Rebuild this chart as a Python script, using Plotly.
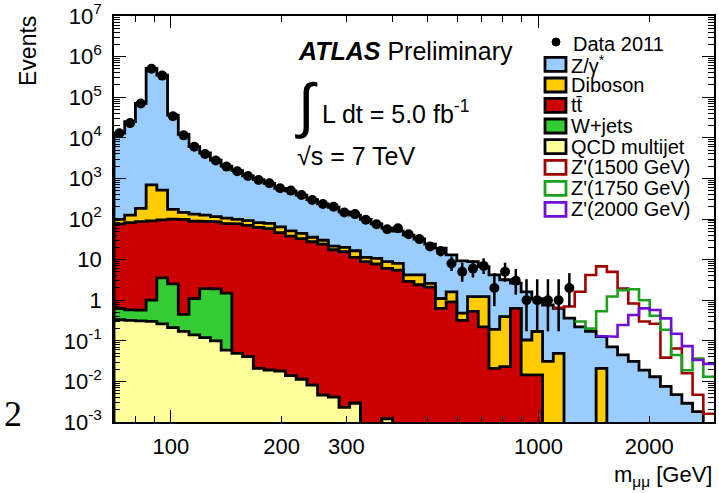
import numpy as np
import plotly.graph_objects as go

# ---------------- data (events per bin, 56 log-spaced bins from 70 to 3000 GeV) ----------------
bin_lo, bin_hi, n_bins = 70.0, 3000.0, 56

data_2011 = [13000, 23000, 70000, 500000, 340000, 34000, 11500, 6000, 4000, 2750,
             1950, 1500, 1150, 910, 760, 570, 500, 390, 295, 235,
             200, 145, 132, 96, 74, 56, 59, 42, 32, 21,
             16, 8, 5, 6, 7, 2, 5, 3, 1, 1,
             1, 1, 2, 0, 0, 0, 0, 0, 0, 0,
             0, 0, 0, 0, 0, 0]

qcd = [0.33, 0.32, 0.31, 0.30, 0.26, 0.21, 0.17, 0.14, 0.12, 0.10,
       0.059, 0.049, 0.041, 0.021, 0.019, 0.018, 0.0138, 0.0113, 0.0081, 0.0046,
       0.0041, 0.0023, 0.0029, 0, 0, 0.0012, 0, 0, 0, 0,
       0, 0, 0, 0, 0, 0, 0, 0, 0, 0,
       0, 0, 0, 0, 0, 0, 0, 0, 0, 0,
       0, 0, 0, 0, 0, 0]

wjets = [0.29, 0.26, 0.26, 0.70, 3.3, 2.3, 0.28, 0.96, 1.8, 1.8,
         1.44, 0, 0, 0, 0, 0, 0, 0, 0, 0,
         0, 0, 0, 0, 0, 0, 0, 0, 0, 0,
         0, 0, 0, 0, 0, 0, 0, 0, 0, 0,
         0, 0, 0, 0, 0, 0, 0, 0, 0, 0,
         0, 0, 0, 0, 0, 0]

ttbar = [75, 81, 86, 89, 92, 97, 98, 87, 86, 83,
         76, 76, 70, 62, 58, 46, 38, 33, 27.5, 24,
         17.5, 15.6, 11.4, 8.9, 7.8, 6.1, 5.5, 2.9, 2.4, 2.1,
         0.63, 0.91, 0.32, 0.53, 0.22, 0.021, 0.023, 0.63, 0.0145, 0.0145,
         0, 0, 0, 0, 0, 0, 0, 0, 0, 0,
         0, 0, 0, 0, 0, 0]

diboson = [22, 43, 96, 600, 420, 74, 47, 44, 37, 30,
           27, 22, 21, 19, 20, 18, 13, 11, 8, 6,
           4, 4.4, 5.1, 2.5, 2.9, 2.8, 2.6, 1.3, 1.8, 0.5,
           0.47, 0.69, 0.16, 0.70, 1.01, 0.17, 0.37, 0, 0.09, 0.155,
           0.031, 0.049, 0, 0, 0, 0.021, 0, 0, 0, 0,
           0, 0, 0, 0, 0, 0]

zgamma = [12900, 25000, 70000, 510000, 350000, 36000, 12000, 5900, 4100, 2700,
          1900, 1450, 1060, 850, 680, 505, 440, 345, 265, 205,
          173, 130, 108, 87, 65, 51, 42, 36, 28, 21.5,
          18, 11.4, 8.8, 7.7, 5.5, 4.0, 2.8, 2.0, 1.5, 0.93,
          0.73, 0.58, 0.36, 0.22, 0.17, 0.105, 0.071, 0.045, 0.031, 0.019,
          0.013, 0.0075, 0.0047, 0.0029, 0.0018, 0]

zprime_1500 = [0] * 41 + [0.02, 0.34, 1.4, 4.0, 6.7, 4.9, 1.9, 0.80, 0.28, 0.25,
                          0.031, 0.060, 0.013, 0.0029, 0.0016]
zprime_1750 = [0] * 43 + [0.08, 0.03, 0.41, 1.16, 1.73, 1.83, 0.98, 0.40, 0.18,
                          0.040, 0.016, 0.035, 0.013]
zprime_2000 = [0] * 45 + [0.005, 0.055, 0.20, 0.40, 0.61, 0.56, 0.35, 0.145, 0.071,
                          0.032, 0.027]

x_tick_vals = [100, 200, 300, 1000, 2000]
x_tick_text = ["100", "200", "300", "1000", "2000"]
y_tick_vals = [1e-3, 1e-2, 1e-1, 1, 10, 1e2, 1e3, 1e4, 1e5, 1e6, 1e7]
y_tick_text = ["10<sup>-3</sup>", "10<sup>-2</sup>", "10<sup>-1</sup>", "1", "10",
               "10<sup>2</sup>", "10<sup>3</sup>", "10<sup>4</sup>", "10<sup>5</sup>",
               "10<sup>6</sup>", "10<sup>7</sup>"]

# ---------------- styles ----------------
C_Z = "#99ccff"
C_DIB = "#ffcc00"
C_TT = "#cc0000"
C_W = "#33cc33"
C_QCD = "#ffff99"
C_1500 = "#a00000"
C_1750 = "#1ba01b"
C_2000 = "#6f0fd8"
FONT = "Liberation Sans, Arial, Helvetica, sans-serif"

edges = np.geomspace(bin_lo, bin_hi, n_bins + 1)
centers = np.sqrt(edges[:-1] * edges[1:])
FLOOR = 1e-6

c1 = np.array(qcd, float)
c2 = c1 + np.array(wjets, float)
c3 = c2 + np.array(ttbar, float)
c4 = c3 + np.array(diboson, float)
c5 = c4 + np.array(zgamma, float)


def step_polygon(vals):
    xs = [edges[0]]
    ys = [FLOOR]
    for k, v in enumerate(vals):
        v = max(v, FLOOR)
        xs += [edges[k], edges[k + 1]]
        ys += [v, v]
    xs.append(edges[-1])
    ys.append(FLOOR)
    return xs, ys


fig = go.Figure()

for vals, col in [(c5, C_Z), (c4, C_DIB), (c3, C_TT), (c2, C_W), (c1, C_QCD)]:
    xs, ys = step_polygon(vals)
    fig.add_trace(go.Scatter(x=xs, y=ys, mode="lines", fill="toself", fillcolor=col,
                             line=dict(color="black", width=2.8), hoverinfo="skip",
                             showlegend=False))

for sig, col in [(zprime_1500, C_1500), (zprime_1750, C_1750), (zprime_2000, C_2000)]:
    sig = np.array(sig, float)
    tot = c5 + sig
    k0 = int(np.argmax(sig > 0))
    xs, ys = [], []
    for k in range(k0, n_bins):
        xs += [edges[k], edges[k + 1]]
        ys += [max(tot[k], FLOOR)] * 2
    fig.add_trace(go.Scatter(x=xs, y=ys, mode="lines", line=dict(color=col, width=2.6),
                             hoverinfo="skip", showlegend=False))

# data with Poisson (Wilson-Hilferty approx.) error bars
n = np.array(data_2011, float)
m = n > 0
nn = n[m]
lo = nn * (1 - 1 / (9 * nn) - 1 / (3 * np.sqrt(nn))) ** 3
hi = (nn + 1) * (1 - 1 / (9 * (nn + 1)) + 1 / (3 * np.sqrt(nn + 1))) ** 3
fig.add_trace(go.Scatter(x=centers[m], y=nn, mode="markers",
                         marker=dict(color="black", size=10),
                         error_y=dict(type="data", symmetric=False, array=hi - nn,
                                      arrayminus=nn - lo, thickness=2.5, width=0,
                                      color="black"),
                         hoverinfo="skip", showlegend=False))

# invisible helper on the overlay axis (long ticks at 100 and 1000)
fig.add_trace(go.Scatter(x=[100], y=[1], xaxis="x2", mode="markers",
                         marker=dict(opacity=0), hoverinfo="skip", showlegend=False))

xr = [np.log10(bin_lo), np.log10(bin_hi)]

fig.update_layout(
    width=719, height=493,
    margin=dict(l=114, r=5, t=16, b=71, autoexpand=False),
    paper_bgcolor="white", plot_bgcolor="white",
    font=dict(family=FONT, color="black"),
    showlegend=False,
    xaxis=dict(type="log", range=xr, tickvals=x_tick_vals, ticktext=x_tick_text,
               ticks="inside", ticklen=6, tickwidth=1, tickcolor="black",
               showline=True, linecolor="black", linewidth=1.5, mirror="ticks",
               showgrid=False, zeroline=False, tickfont=dict(size=22),
               ticklabelstandoff=4, automargin=False,
               minor=dict(tickvals=[70, 80, 90, 400, 500, 600, 700, 800, 900, 3000],
                          ticks="inside", ticklen=6, tickcolor="black", showgrid=False)),
    xaxis2=dict(type="log", range=xr, overlaying="x", anchor="y", side="bottom",
                tickvals=[100, 1000], ticks="inside", ticklen=12, tickcolor="black",
                showticklabels=False, showline=False, mirror="ticks", showgrid=False,
                zeroline=False, automargin=False),
    yaxis=dict(type="log", range=[-3, 7], tickvals=y_tick_vals, ticktext=y_tick_text,
               ticks="inside", ticklen=12, tickwidth=1, tickcolor="black",
               showline=True, linecolor="black", linewidth=1.5, mirror="ticks",
               showgrid=False, zeroline=False, tickfont=dict(size=22),
               ticklabelstandoff=6, automargin=False,
               minor=dict(tickvals=[mm * 10.0 ** d for d in range(-3, 7) for mm in range(2, 10)],
                          ticks="inside", ticklen=6, tickcolor="black", showgrid=False)),
)


def px(x):
    return (x - 114) / 600


def py(y):
    return (422 - y) / 406


ann = []


def text(x, y, s, size, xanchor="left", family=FONT, angle=0):
    ann.append(dict(x=px(x), y=py(y), xref="paper", yref="paper", text=s, showarrow=False,
                    xanchor=xanchor, yanchor="middle", textangle=angle,
                    font=dict(size=size, family=family, color="black")))


text(296, 51, "<b><i>ATLAS</i></b> Preliminary", 25)
text(293, 106, "∫", 60)
text(320, 112, "L dt = 5.0 fb<sup>-1</sup>", 25)
text(295, 156, "√s = 7 TeV", 25)
text(28, 51, "Events", 23, xanchor="center", angle=-90)
text(714, 476, "m<sub>μμ</sub> [GeV]", 22, xanchor="right")
text(2, 414, "2", 36, family="Liberation Serif, Times New Roman, serif")

# manual legend
shapes = []
shapes.append(dict(type="circle", xref="paper", yref="paper", x0=px(552), x1=px(560),
                   y0=py(46), y1=py(38), fillcolor="black", line=dict(color="black", width=1)))
text(571, 44, "Data 2011", 20)
rows = [64.3, 85.0, 105.3, 126.0, 146.7, 167.3, 188.3, 209.3]
entries = [("Z/γ<sup>*</sup>", C_Z, "black"), ("Diboson", C_DIB, "black"),
           ("tt\u0304", C_TT, "black"), ("W+jets", C_W, "black"),
           ("QCD multijet", C_QCD, "black"), ("Z'(1500 GeV)", "white", C_1500),
           ("Z'(1750 GeV)", "white", C_1750), ("Z'(2000 GeV)", "white", C_2000)]
for yc, (lab, fc, lc) in zip(rows, entries):
    shapes.append(dict(type="rect", xref="paper", yref="paper", x0=px(545), x1=px(566),
                       y0=py(yc + 7), y1=py(yc - 7), fillcolor=fc,
                       line=dict(color=lc, width=2.8)))
    text(569, yc, lab, 20)

fig.update_layout(annotations=ann, shapes=shapes)
fig.write_html("out.html", config={"displayModeBar": False},
               post_script="document.body.style.margin='0';document.body.style.overflow='hidden';")
